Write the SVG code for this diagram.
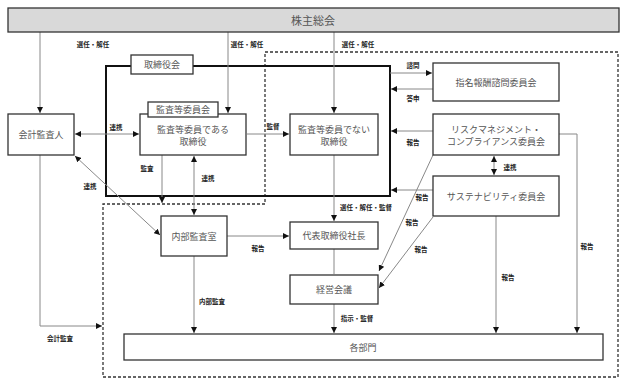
<svg xmlns="http://www.w3.org/2000/svg" width="626" height="384" viewBox="0 0 626 384">
<defs>
<marker id="ah" viewBox="0 0 6 6" refX="6" refY="3" markerWidth="6" markerHeight="6" markerUnits="userSpaceOnUse" orient="auto-start-reverse"><path d="M0,0 L6,3 L0,6 z" fill="#111"/></marker>
<style>
.box{fill:#fff;stroke:#333;stroke-width:1.3}
.thick{fill:none;stroke:#111;stroke-width:2}
.dash{fill:none;stroke:#333;stroke-width:1.3;stroke-dasharray:3 2}
.ln{fill:none;stroke:#888;stroke-width:1}
.a{marker-end:url(#ah)}
.b{marker-start:url(#ah);marker-end:url(#ah)}
.t{font-family:"Noto Sans CJK JP","Noto Sans",sans-serif;font-size:9px;fill:#555;text-anchor:middle;dominant-baseline:central}
.l{font-family:"Noto Sans CJK JP","Noto Sans",sans-serif;font-size:6.5px;font-weight:bold;fill:#222;text-anchor:middle;dominant-baseline:central}
</style>
</defs>
<rect width="626" height="384" fill="#fff"/>
<path class="dash" d="M265,52 H618 V377 H103 V204 H265 Z"/>
<rect class="thick" x="106" y="66" width="284" height="130"/>
<g id="connectors">
<path class="ln a" d="M40,32 V113"/>
<path class="ln a" d="M228,32 V113"/>
<path class="ln a" d="M334,32 V113"/>
<path class="ln b" d="M75,134 H139"/>
<path class="ln a" d="M247,134 H289"/>
<path class="ln a" d="M390,73 H432"/>
<path class="ln a" d="M433,89 H391"/>
<path class="ln a" d="M433,131 H391"/>
<path class="ln a" d="M433,190 H391"/>
<path class="ln b" d="M494,156 V175"/>
<path class="ln a" d="M559,134 H577 V333"/>
<path class="ln a" d="M496,216 V333"/>
<path class="ln a" d="M433,155 L379,271"/>
<path class="ln a" d="M433,217 L379,288"/>
<path class="ln a" d="M334,155 V221"/>
<path class="ln" d="M334,249 V274"/>
<path class="ln a" d="M334,304 V333"/>
<path class="ln a" d="M162,155 V203"/>
<path class="ln b" d="M194,156 V215"/>
<path class="ln b" d="M75,156 L160,235"/>
<path class="ln a" d="M227,236 H289"/>
<path class="ln a" d="M194,256 V333"/>
<path class="ln a" d="M40,155 V326 H102"/>
<text class="l" x="93" y="44">選任・解任</text>
<text class="l" x="247" y="44">選任・解任</text>
<text class="l" x="358" y="44">選任・解任</text>
<text class="l" x="116" y="127">連携</text>
<text class="l" x="273" y="126">監督</text>
<text class="l" x="413" y="65">諮問</text>
<text class="l" x="413" y="98">答申</text>
<text class="l" x="413" y="142">報告</text>
<text class="l" x="422" y="197">報告</text>
<text class="l" x="510" y="167">連携</text>
<text class="l" x="587" y="246">報告</text>
<text class="l" x="508" y="277">報告</text>
<text class="l" x="412" y="222">報告</text>
<text class="l" x="421" y="249">報告</text>
<text class="l" x="366" y="207">選任・解任・監督</text>
<text class="l" x="357" y="318">指示・監督</text>
<text class="l" x="147" y="168">監査</text>
<text class="l" x="208" y="178">連携</text>
<text class="l" x="90" y="186">連携</text>
<text class="l" x="258" y="248">報告</text>
<text class="l" x="212" y="301">内部監査</text>
<text class="l" x="60" y="338">会計監査</text>
</g>
<g id="shareholders"><rect x="8" y="8" width="611" height="24" fill="#d9d9d9" stroke="#333" stroke-width="1.3"/><text class="t" x="313" y="20" style="font-size:11px">株主総会</text></g>
<g id="board-label"><rect class="box" x="131" y="55" width="62" height="19"/><text class="t" x="162" y="64.5">取締役会</text></g>
<g id="auditor"><rect class="box" x="8" y="114" width="66" height="41"/><text class="t" x="41" y="134.5">会計監査人</text></g>
<g id="audit-director"><rect class="box" x="140" y="114" width="106" height="41"/><text class="t" x="193" y="129">監査等委員である</text><text class="t" x="193" y="141">取締役</text></g>
<g id="audit-committee"><rect class="box" x="148" y="102" width="70" height="15"/><text class="t" x="183" y="109.5">監査等委員会</text></g>
<g id="director"><rect class="box" x="290" y="114" width="88" height="41"/><text class="t" x="334" y="129">監査等委員でない</text><text class="t" x="334" y="141">取締役</text></g>
<g id="nomination"><rect class="box" x="433" y="63" width="126" height="38"/><text class="t" x="496" y="82">指名報酬諮問委員会</text></g>
<g id="risk"><rect class="box" x="433" y="114" width="126" height="41"/><text class="t" x="496" y="129">リスクマネジメント・</text><text class="t" x="496" y="141">コンプライアンス委員会</text></g>
<g id="sustainability"><rect class="box" x="433" y="176" width="126" height="40"/><text class="t" x="496" y="196">サステナビリティ委員会</text></g>
<g id="internal-audit"><rect class="box" x="161" y="216" width="66" height="40"/><text class="t" x="194" y="236">内部監査室</text></g>
<g id="president"><rect class="box" x="290" y="222" width="88" height="27"/><text class="t" x="334" y="235.5">代表取締役社長</text></g>
<g id="management"><rect class="box" x="290" y="275" width="88" height="29"/><text class="t" x="334" y="289.5">経営会議</text></g>
<g id="departments"><rect class="box" x="124" y="334" width="479" height="26"/><text class="t" x="363" y="347">各部門</text></g>
</svg>
